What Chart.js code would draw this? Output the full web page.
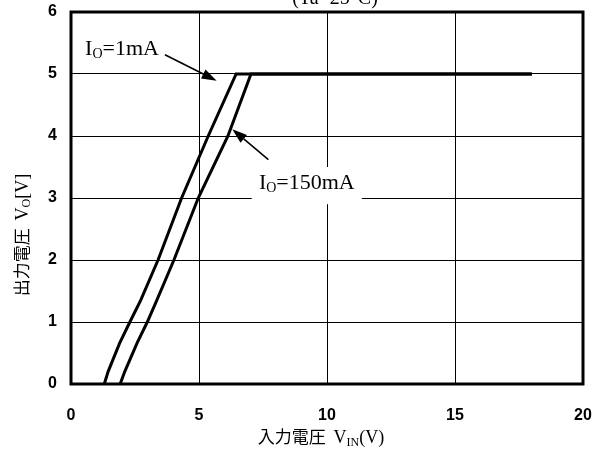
<!DOCTYPE html>
<html>
<head>
<meta charset="utf-8">
<script src="https://cdn.jsdelivr.net/npm/chart.js@4.4.1/dist/chart.umd.min.js"></script>
<style>
html,body{margin:0;padding:0;background:#fff;}
#wrap{width:603px;height:451px;}
</style>
</head>
<body>
<div id="wrap"><canvas id="c" width="603" height="451"></canvas></div>
<script>
// ---- data ----
const vin1mA   = [1.3, 1.45, 1.9, 2.3, 2.72, 3.4, 4.32, 5.36, 6.45, 18];
const vout1mA  = [0,   0.2,  0.66, 1,  1.35, 2,   3,    4,    5,    5];
const vin150mA = [1.92, 2.1, 2.58, 2.98, 3.35, 4.02, 4.97, 6.13, 7.03, 18];
const vout150mA= [0,    0.2, 0.66, 1,    1.35, 2,    3,    4,    5,    5];
const xTicks = [0, 5, 10, 15, 20];
const yTicks = [0, 1, 2, 3, 4, 5, 6];
const titleText = "(Ta=25\u00B0C)";

function pts(xs, ys){ return xs.map((x,i)=>({x:x, y:ys[i]})); }

const serif = '"Liberation Serif", "DejaVu Serif", serif';
const cjk = '"Noto Sans CJK JP", "Noto Sans", sans-serif';

function drawRich(ctx, parts, x, y, align){
  let w = 0;
  parts.forEach(p=>{ ctx.font = p.font; p.w = ctx.measureText(p.t).width; w += p.w; });
  let cx = align === 'center' ? x - w/2 : x;
  ctx.textBaseline = 'alphabetic';
  ctx.textAlign = 'left';
  parts.forEach(p=>{ ctx.font = p.font; ctx.fillText(p.t, cx, y + (p.dy||0)); cx += p.w; });
}

function arrow(ctx, x1, y1, x2, y2){
  const ang = Math.atan2(y2-y1, x2-x1);
  const L = 15, W = 5;
  const bx = x2 - L*Math.cos(ang), by = y2 - L*Math.sin(ang);
  ctx.beginPath(); ctx.moveTo(x1,y1); ctx.lineTo(bx,by);
  ctx.lineWidth = 1.6; ctx.strokeStyle = '#000'; ctx.stroke();
  ctx.beginPath();
  ctx.moveTo(x2,y2);
  ctx.lineTo(bx + W*Math.sin(ang), by - W*Math.cos(ang));
  ctx.lineTo(bx - W*Math.sin(ang), by + W*Math.cos(ang));
  ctx.closePath(); ctx.fillStyle = '#000'; ctx.fill();
}

const deco = {
  id: 'deco',
  beforeDatasetsDraw(chart){
    const ctx = chart.ctx, xs = chart.scales.x, ys = chart.scales.y;
    ctx.save();
    ctx.fillStyle = '#fff';
    const bx1 = xs.getPixelForValue(7.06), bx2 = xs.getPixelForValue(11.36);
    const by1 = ys.getPixelForValue(3.5), by2 = ys.getPixelForValue(2.9);
    ctx.fillRect(bx1, by1, bx2-bx1, by2-by1);
    ctx.restore();
  },
  afterDraw(chart){
    const ctx = chart.ctx, a = chart.chartArea, xs = chart.scales.x, ys = chart.scales.y;
    ctx.save();
    ctx.strokeStyle = '#000'; ctx.lineWidth = 3;
    ctx.strokeRect(a.left, a.top, a.right-a.left, a.bottom-a.top);
    ctx.fillStyle = '#000';
    drawRich(ctx, [
      {t:'I', font:'22px '+serif},
      {t:'O', font:'14px '+serif, dy:3},
      {t:'=1mA', font:'22px '+serif}
    ], xs.getPixelForValue(0.55), ys.getPixelForValue(5.3), 'left');
    drawRich(ctx, [
      {t:'I', font:'22px '+serif},
      {t:'O', font:'14px '+serif, dy:3},
      {t:'=150mA', font:'22px '+serif}
    ], xs.getPixelForValue(7.34), ys.getPixelForValue(3.14), 'left');
    arrow(ctx, xs.getPixelForValue(3.67), ys.getPixelForValue(5.31), xs.getPixelForValue(5.69), ys.getPixelForValue(4.89));
    arrow(ctx, xs.getPixelForValue(7.71), ys.getPixelForValue(3.62), xs.getPixelForValue(6.3), ys.getPixelForValue(4.11));
    ctx.font = '20px '+serif; ctx.textAlign = 'center'; ctx.textBaseline = 'alphabetic';
    ctx.fillText(titleText, 335, 4);
    drawRich(ctx, [
      {t:'入力電圧  ', font:'17px '+cjk},
      {t:'V', font:'18px '+serif},
      {t:'IN', font:'12px '+serif, dy:3},
      {t:'(V)', font:'18px '+serif}
    ], (a.left+a.right)/2 - 6, 443, 'center');
    ctx.translate(28, 235);
    ctx.rotate(-Math.PI/2);
    drawRich(ctx, [
      {t:'出力電圧  ', font:'17px '+cjk},
      {t:'V', font:'18px '+serif},
      {t:'O', font:'12px '+serif, dy:2},
      {t:'[V]', font:'18px '+serif}
    ], 0, 0, 'center');
    ctx.restore();
  }
};

new Chart(document.getElementById('c'), {
  type: 'scatter',
  data: {
    datasets: [
      {label:'IO=1mA', data: pts(vin1mA, vout1mA), showLine:true, borderColor:'#000', borderWidth:3, pointRadius:0, tension:0, fill:false},
      {label:'IO=150mA', data: pts(vin150mA, vout150mA), showLine:true, borderColor:'#000', borderWidth:3, pointRadius:0, tension:0, fill:false}
    ]
  },
  options: {
    responsive:false, animation:false, devicePixelRatio:1,
    layout:{padding:{left:0, right:20, top:12, bottom:0}},
    plugins:{legend:{display:false}, tooltip:{enabled:false}},
    scales:{
      x:{
        type:'linear', min:0, max:20,
        afterBuildTicks(s){ s.ticks = xTicks.map(v=>({value:v})); },
        afterFit(s){ s.height = 67; s.paddingLeft = 0; s.paddingRight = 0; },
        grid:{color:'#000', lineWidth:1, drawTicks:false},
        border:{display:false},
        ticks:{color:'#000', padding:22, font:{family:'"Liberation Sans", Arial, sans-serif', size:16, weight:'bold'}}
      },
      y:{
        type:'linear', min:0, max:6,
        afterBuildTicks(s){ s.ticks = yTicks.map(v=>({value:v})); },
        afterFit(s){ s.width = 71; s.paddingTop = 0; s.paddingBottom = 0; },
        grid:{color:'#000', lineWidth:1, drawTicks:false},
        border:{display:false},
        ticks:{color:'#000', padding:14, font:{family:'"Liberation Sans", Arial, sans-serif', size:16, weight:'bold'}}
      }
    }
  },
  plugins:[deco]
});
</script>
</body>
</html>
